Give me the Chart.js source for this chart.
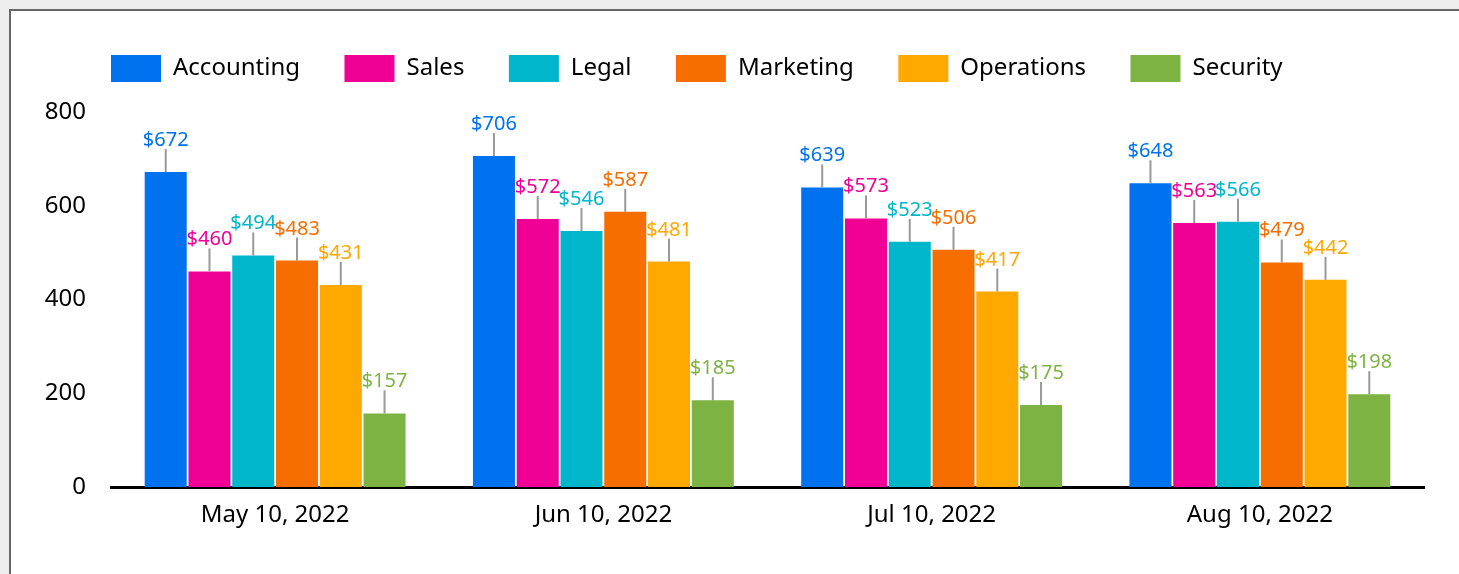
<!DOCTYPE html>
<html>
<head>
<meta charset="utf-8">
<script src="https://cdn.jsdelivr.net/npm/chart.js@4.4.0/dist/chart.umd.min.js"></script>
<style>
  html, body { margin: 0; padding: 0; background: #eeeeee; overflow: hidden; }
  .frame {
    position: absolute; left: 9px; top: 9px; width: 1500px; height: 600px;
    background: #fff; border: 2px solid #666;
  }
  #chartWrap { position: absolute; left: 0; top: 0; width: 1459px; height: 574px; }
</style>
</head>
<body>
<div class="frame"></div>
<div id="chartWrap"><canvas id="spendChart" width="1459" height="574"></canvas></div>
<script>
// Monthly spend per department
const months = ['May 10, 2022', 'Jun 10, 2022', 'Jul 10, 2022', 'Aug 10, 2022'];
const departments = ['Accounting', 'Sales', 'Legal', 'Marketing', 'Operations', 'Security'];
const accounting = [672, 706, 639, 648];
const sales = [460, 572, 573, 563];
const legal = [494, 546, 523, 566];
const marketing = [483, 587, 506, 479];
const operations = [431, 481, 417, 442];
const security = [157, 185, 175, 198];
const yTicks = [0, 200, 400, 600, 800];

const seriesValues = [accounting, sales, legal, marketing, operations, security];
const colors = ['#0072f0', '#f10096', '#00b6cb', '#f66d00', '#ffa800', '#7cb342'];

const FONT = '"Noto Sans", "Open Sans", sans-serif';
const LEGEND_PAD = 44.5;

// callout labels: short grey stem above each bar, value on top
const valueLabels = {
    id: 'valueLabels',
    afterDatasetsDraw(chart) {
        const ctx = chart.ctx;
        ctx.save();
        ctx.font = '20px ' + FONT;
        ctx.textAlign = 'center';
        ctx.textBaseline = 'alphabetic';
        chart.data.datasets.forEach((ds, i) => {
            chart.getDatasetMeta(i).data.forEach((bar, j) => {
                const x = bar.x, y = bar.y;
                ctx.strokeStyle = '#999';
                ctx.lineWidth = 2;
                ctx.beginPath();
                ctx.moveTo(x, y);
                ctx.lineTo(x, y - 23);
                ctx.stroke();
                ctx.fillStyle = ds.backgroundColor;
                ctx.fillText('$' + ds.data[j], x, y - 26);
            });
        });
        ctx.restore();
    }
};

// legend: extra room below it and line it up with the plot's left edge
const legendLayout = {
    id: 'legendLayout',
    beforeInit(chart) {
        const fit = chart.legend.fit;
        chart.legend.fit = function () {
            fit.bind(chart.legend)();
            this.height = 101.5;
        };
    },
    afterLayout(chart) {
        chart.legend.left = chart.chartArea.left - LEGEND_PAD;
    }
};

new Chart(document.getElementById('spendChart'), {
    type: 'bar',
    data: {
        labels: months,
        datasets: departments.map((name, i) => ({
            label: name,
            data: seriesValues[i],
            backgroundColor: colors[i],
            categoryPercentage: 0.8,
            barPercentage: 0.96
        }))
    },
    options: {
        responsive: false,
        animation: false,
        layout: { padding: { top: 10.5, left: 11, right: 35, bottom: 0 } },
        plugins: {
            legend: {
                position: 'top',
                align: 'start',
                labels: {
                    boxWidth: 50,
                    boxHeight: 27,
                    padding: LEGEND_PAD,
                    color: '#000',
                    font: { family: FONT, size: 24 }
                }
            },
            tooltip: { enabled: false }
        },
        scales: {
            x: {
                grid: { display: false, drawTicks: false },
                border: { display: true, color: '#000', width: 3 },
                ticks: { color: '#000', padding: 14, font: { family: FONT, size: 24 } },
                afterFit: s => { s.height = 87; }
            },
            y: {
                min: 0,
                max: 800,
                grid: { display: false, drawTicks: false },
                border: { display: false },
                afterBuildTicks: s => { s.ticks = yTicks.map(v => ({ value: v })); },
                ticks: { color: '#000', padding: 25, font: { family: FONT, size: 24 } },
                afterFit: s => { s.width = 100; }
            }
        }
    },
    plugins: [valueLabels, legendLayout]
});
</script>
</body>
</html>
